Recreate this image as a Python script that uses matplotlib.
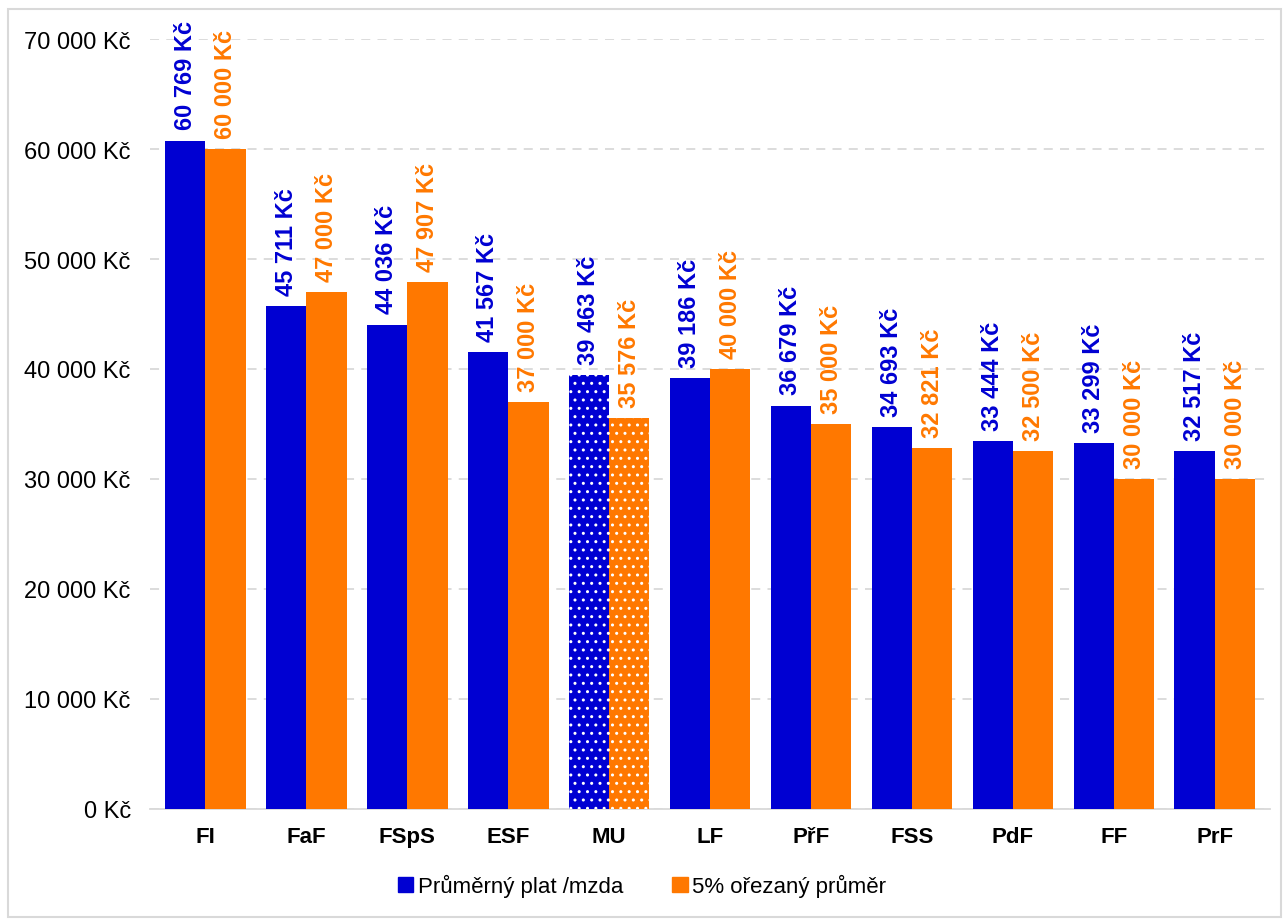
#
# Average salary per faculty vs. 5% trimmed mean, grouped bar chart
#

import matplotlib
matplotlib.use("Agg")
import matplotlib.pyplot as plt
import numpy as np
from matplotlib.patches import Patch, Rectangle
from matplotlib.ticker import FuncFormatter

faculties = ["FI", "FaF", "FSpS", "ESF", "MU", "LF", "PřF", "FSS", "PdF", "FF", "PrF"]
avg_salary = [60769, 45711, 44036, 41567, 39463, 39186, 36679, 34693, 33444, 33299, 32517]
trimmed_mean = [60000, 47000, 47907, 37000, 35576, 40000, 35000, 32821, 32500, 30000, 30000]
series_names = ["Průměrný plat /mzda", "5% ořezaný průměr"]
highlight = "MU"  # the whole university, drawn with dotted bars

BLUE = "#0000d2"
ORANGE = "#ff7800"


def kc(value):
    # 60769 -> "60 769 Kč"
    return "{:,}".format(int(value)).replace(",", " ") + " Kč"


plt.rcParams["font.family"] = ["Liberation Sans", "DejaVu Sans"]

fig = plt.figure(figsize=(12.84, 9.2), dpi=100)
ax = fig.add_axes([0.117, 0.1196, 0.872, 0.8369])

# outer frame
fig.patches.append(Rectangle((0.006, 0.002), 0.992, 0.987, transform=fig.transFigure,
                             fill=False, edgecolor="#d9d9d9", linewidth=1.5))

x = np.arange(len(faculties))
width = 0.4

for i, name in enumerate(faculties):
    dotted = name == highlight
    for values, color, offset in ((avg_salary, BLUE, -width / 2), (trimmed_mean, ORANGE, width / 2)):
        ax.bar(x[i] + offset, values[i], width, color=color,
               edgecolor="white" if dotted else color,
               linewidth=0, hatch=".." if dotted else None, zorder=3)
        ax.annotate(kc(values[i]), (x[i] + offset, values[i]), xytext=(0, 8),
                    textcoords="offset points", rotation=90, ha="center", va="bottom",
                    fontsize=17, fontweight="bold", color=color, annotation_clip=False)

ax.set_xlim(-0.545, len(faculties) - 1 + 0.545)
ax.set_ylim(0, 70000)
ax.set_yticks(np.arange(0, 70001, 10000))
ax.yaxis.set_major_formatter(FuncFormatter(lambda v, p: kc(v)))
ax.set_xticks(x)
ax.set_xticklabels(faculties, fontweight="bold")
ax.tick_params(axis="y", length=0, labelsize=17, pad=14)
ax.tick_params(axis="x", length=0, labelsize=16, pad=12)

ax.grid(axis="y", color="#d9d9d9", linestyle=(0, (5, 4)), linewidth=1.3, zorder=0)
for side in ("left", "right", "top"):
    ax.spines[side].set_visible(False)
ax.spines["bottom"].set_color("#d9d9d9")
ax.spines["bottom"].set_linewidth(1.3)

handles = [Patch(color=BLUE), Patch(color=ORANGE)]
fig.legend(handles, series_names, loc="center", bbox_to_anchor=(0.5, 0.036), ncol=2,
           frameon=False, fontsize=16, handlelength=0.7, handleheight=0.7,
           handletextpad=0.2, columnspacing=2.2)

fig.savefig("out.png", dpi=100)
